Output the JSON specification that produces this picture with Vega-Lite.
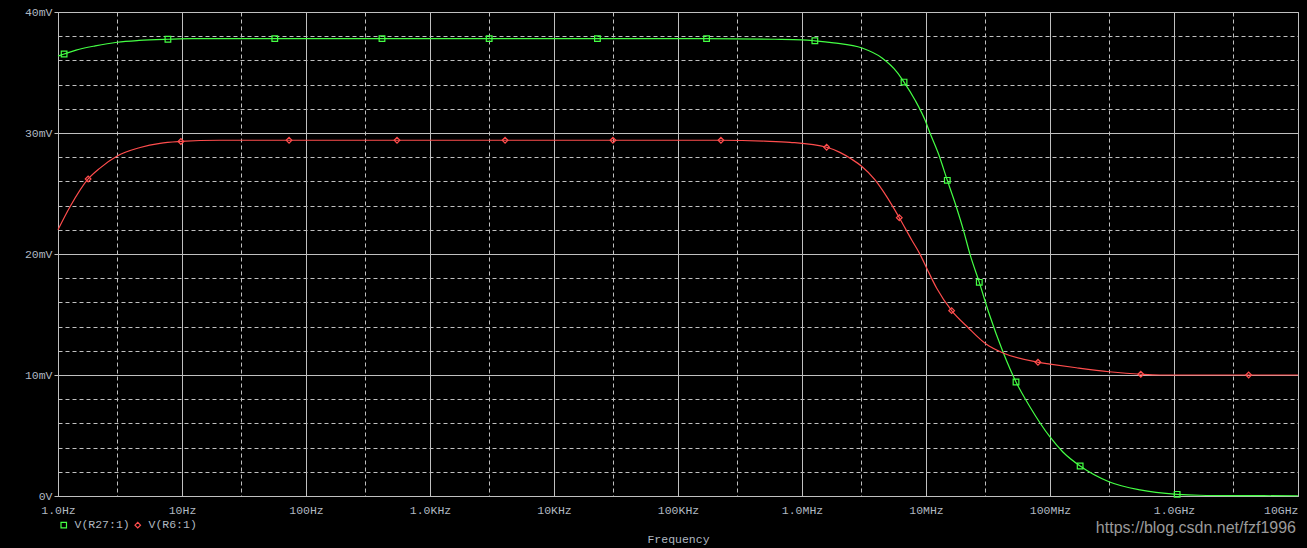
{
  "$schema": "https://vega.github.io/schema/vega-lite/v6.json",
  "width": 1240,
  "height": 484,
  "autosize": {"type": "none"},
  "padding": {"left": 58, "top": 12, "right": 9, "bottom": 52},
  "background": "#000000",
  "config": {
    "view": {"stroke": "#c0c0c0", "strokeWidth": 1, "fill": "#000000"},
    "axis": {
      "labelFont": "Liberation Mono",
      "labelFontSize": 11.5,
      "labelColor": "#b0b8c0",
      "titleFont": "Liberation Mono",
      "titleFontSize": 11.5,
      "titleColor": "#b0b8c0",
      "titleFontWeight": "normal",
      "gridColor": "#c0c0c0",
      "gridOpacity": 1,
      "gridWidth": 1,
      "domain": false,
      "tickColor": "#c0c0c0"
    }
  },
  "datasets": {
    "curves": [
      {"f": 1, "v": 36.36, "s": "V(R27:1)", "m": 0},
      {"f": 1.12, "v": 36.53, "s": "V(R27:1)", "m": 1},
      {"f": 1.4, "v": 36.85, "s": "V(R27:1)", "m": 0},
      {"f": 2, "v": 37.2, "s": "V(R27:1)", "m": 0},
      {"f": 3, "v": 37.5, "s": "V(R27:1)", "m": 0},
      {"f": 4.5, "v": 37.65, "s": "V(R27:1)", "m": 0},
      {"f": 7.7, "v": 37.75, "s": "V(R27:1)", "m": 1},
      {"f": 12, "v": 37.8, "s": "V(R27:1)", "m": 0},
      {"f": 56, "v": 37.8, "s": "V(R27:1)", "m": 1},
      {"f": 410, "v": 37.8, "s": "V(R27:1)", "m": 1},
      {"f": 3000, "v": 37.8, "s": "V(R27:1)", "m": 1},
      {"f": 22400, "v": 37.8, "s": "V(R27:1)", "m": 1},
      {"f": 170000, "v": 37.8, "s": "V(R27:1)", "m": 1},
      {"f": 600000, "v": 37.75, "s": "V(R27:1)", "m": 0},
      {"f": 1000000, "v": 37.7, "s": "V(R27:1)", "m": 0},
      {"f": 1270000, "v": 37.62, "s": "V(R27:1)", "m": 1},
      {"f": 1800000, "v": 37.45, "s": "V(R27:1)", "m": 0},
      {"f": 3050000, "v": 37.02, "s": "V(R27:1)", "m": 0},
      {"f": 4420000, "v": 36.2, "s": "V(R27:1)", "m": 0},
      {"f": 5830000, "v": 35.04, "s": "V(R27:1)", "m": 0},
      {"f": 6650000, "v": 34.21, "s": "V(R27:1)", "m": 1},
      {"f": 8150000, "v": 32.73, "s": "V(R27:1)", "m": 0},
      {"f": 9820000, "v": 31.07, "s": "V(R27:1)", "m": 0},
      {"f": 10770000, "v": 30.0, "s": "V(R27:1)", "m": 0},
      {"f": 12560000, "v": 28.32, "s": "V(R27:1)", "m": 0},
      {"f": 14850000, "v": 26.09, "s": "V(R27:1)", "m": 1},
      {"f": 17700000, "v": 23.78, "s": "V(R27:1)", "m": 0},
      {"f": 20000000, "v": 22.0, "s": "V(R27:1)", "m": 0},
      {"f": 22650000, "v": 19.97, "s": "V(R27:1)", "m": 0},
      {"f": 26900000, "v": 17.66, "s": "V(R27:1)", "m": 1},
      {"f": 32200000, "v": 15.1, "s": "V(R27:1)", "m": 0},
      {"f": 41800000, "v": 11.9, "s": "V(R27:1)", "m": 0},
      {"f": 53200000, "v": 9.42, "s": "V(R27:1)", "m": 1},
      {"f": 69000000, "v": 7.36, "s": "V(R27:1)", "m": 0},
      {"f": 100000000, "v": 4.88, "s": "V(R27:1)", "m": 0},
      {"f": 127000000, "v": 3.64, "s": "V(R27:1)", "m": 0},
      {"f": 175000000, "v": 2.48, "s": "V(R27:1)", "m": 1},
      {"f": 299000000, "v": 1.18, "s": "V(R27:1)", "m": 0},
      {"f": 532000000, "v": 0.5, "s": "V(R27:1)", "m": 0},
      {"f": 1060000000, "v": 0.14, "s": "V(R27:1)", "m": 1},
      {"f": 1600000000, "v": 0.06, "s": "V(R27:1)", "m": 0},
      {"f": 3000000000, "v": 0.03, "s": "V(R27:1)", "m": 0},
      {"f": 10000000000, "v": 0.02, "s": "V(R27:1)", "m": 0},
      {"f": 1, "v": 22.0, "s": "V(R6:1)", "m": 0},
      {"f": 1.25, "v": 23.9, "s": "V(R6:1)", "m": 0},
      {"f": 1.75, "v": 26.2, "s": "V(R6:1)", "m": 1},
      {"f": 2.18, "v": 27.1, "s": "V(R6:1)", "m": 0},
      {"f": 3, "v": 28.1, "s": "V(R6:1)", "m": 0},
      {"f": 4.6, "v": 28.8, "s": "V(R6:1)", "m": 0},
      {"f": 6.65, "v": 29.15, "s": "V(R6:1)", "m": 0},
      {"f": 9.8, "v": 29.3, "s": "V(R6:1)", "m": 1},
      {"f": 20, "v": 29.4, "s": "V(R6:1)", "m": 0},
      {"f": 73, "v": 29.4, "s": "V(R6:1)", "m": 1},
      {"f": 542, "v": 29.4, "s": "V(R6:1)", "m": 1},
      {"f": 4030, "v": 29.4, "s": "V(R6:1)", "m": 1},
      {"f": 29900, "v": 29.4, "s": "V(R6:1)", "m": 1},
      {"f": 222000, "v": 29.4, "s": "V(R6:1)", "m": 1},
      {"f": 500000, "v": 29.33, "s": "V(R6:1)", "m": 0},
      {"f": 800000, "v": 29.23, "s": "V(R6:1)", "m": 0},
      {"f": 1580000, "v": 28.82, "s": "V(R6:1)", "m": 1},
      {"f": 2020000, "v": 28.4, "s": "V(R6:1)", "m": 0},
      {"f": 2520000, "v": 27.83, "s": "V(R6:1)", "m": 0},
      {"f": 3010000, "v": 27.27, "s": "V(R6:1)", "m": 0},
      {"f": 3880000, "v": 26.12, "s": "V(R6:1)", "m": 0},
      {"f": 4820000, "v": 24.74, "s": "V(R6:1)", "m": 0},
      {"f": 6090000, "v": 23.0, "s": "V(R6:1)", "m": 1},
      {"f": 7670000, "v": 21.16, "s": "V(R6:1)", "m": 0},
      {"f": 8960000, "v": 19.97, "s": "V(R6:1)", "m": 0},
      {"f": 10140000, "v": 18.82, "s": "V(R6:1)", "m": 0},
      {"f": 12200000, "v": 17.17, "s": "V(R6:1)", "m": 0},
      {"f": 16100000, "v": 15.32, "s": "V(R6:1)", "m": 1},
      {"f": 21800000, "v": 13.93, "s": "V(R6:1)", "m": 0},
      {"f": 30500000, "v": 12.56, "s": "V(R6:1)", "m": 0},
      {"f": 41800000, "v": 11.82, "s": "V(R6:1)", "m": 0},
      {"f": 80000000, "v": 11.05, "s": "V(R6:1)", "m": 1},
      {"f": 100000000, "v": 10.9, "s": "V(R6:1)", "m": 0},
      {"f": 163000000, "v": 10.6, "s": "V(R6:1)", "m": 0},
      {"f": 300000000, "v": 10.27, "s": "V(R6:1)", "m": 0},
      {"f": 540000000, "v": 10.06, "s": "V(R6:1)", "m": 1},
      {"f": 770000000, "v": 10.0, "s": "V(R6:1)", "m": 0},
      {"f": 4000000000, "v": 10.0, "s": "V(R6:1)", "m": 1},
      {"f": 10000000000, "v": 10.0, "s": "V(R6:1)", "m": 0}
    ]
  },
  "layer": [
    {
      "data": {"name": "curves"},
      "transform": [{"filter": "datum.s == 'V(R27:1)'"}],
      "mark": {"type": "line", "strokeWidth": 1.2, "interpolate": "monotone", "color": "#44ff44"},
      "encoding": {
        "x": {
          "field": "f",
          "type": "quantitative",
          "scale": {"type": "log", "domain": [1, 10000000000]},
          "axis": {
            "values": [1, 3, 10, 30, 100, 300, 1000, 3000, 10000, 30000, 100000, 300000, 1000000, 3000000, 10000000, 30000000, 100000000, 300000000, 1000000000, 3000000000, 10000000000],
            "tickCount": 100,
            "labelExpr": "{'1':'1.0Hz','10':'10Hz','100':'100Hz','1000':'1.0KHz','10000':'10KHz','100000':'100KHz','1000000':'1.0MHz','10000000':'10MHz','100000000':'100MHz','1000000000':'1.0GHz','10000000000':'10GHz'}['' + datum.value] || ''",
            "ticks": false,
            "labelPadding": 8,
            "labelFlush": false,
            "labelOverlap": false,
            "labelBound": false,
            "labelAlign": {"condition": {"test": "datum.value >= 9000000000", "value": "right"}, "value": "center"},
            "gridDash": {"condition": {"test": "abs(log(datum.value)/LN10 - round(log(datum.value)/LN10)) > 0.01", "value": [4, 3]}, "value": []},
            "title": "Frequency",
            "titlePadding": 18
          }
        },
        "y": {
          "field": "v",
          "type": "quantitative",
          "scale": {"domain": [0, 40], "nice": false, "zero": false},
          "axis": {
            "values": [0, 2, 4, 6, 8, 10, 12, 14, 16, 18, 20, 22, 24, 26, 28, 30, 32, 34, 36, 38, 40],
            "tickCount": 100,
            "labelExpr": "datum.value % 10 == 0 ? (datum.value == 0 ? '0V' : datum.value + 'mV') : ''",
            "tickSize": 4,
            "labelPadding": 2,
            "tickOpacity": {"condition": {"test": "datum.value % 10 != 0", "value": 0}, "value": 1},
            "gridDash": {"condition": {"test": "datum.value % 10 != 0", "value": [4, 3]}, "value": []},
            "labelOverlap": false,
            "labelBound": false,
            "title": null
          }
        }
      }
    },
    {
      "data": {"name": "curves"},
      "transform": [{"filter": "datum.s == 'V(R6:1)'"}],
      "mark": {"type": "line", "strokeWidth": 1.2, "interpolate": "monotone", "color": "#ff4d4d"},
      "encoding": {
        "x": {"field": "f", "type": "quantitative"},
        "y": {"field": "v", "type": "quantitative"}
      }
    },
    {
      "data": {"name": "curves"},
      "transform": [{"filter": "datum.m == 1"}],
      "mark": {"type": "point", "filled": false, "strokeWidth": 1.2, "opacity": 1, "size": 32},
      "encoding": {
        "x": {"field": "f", "type": "quantitative"},
        "y": {"field": "v", "type": "quantitative"},
        "color": {
          "field": "s",
          "type": "nominal",
          "scale": {"domain": ["V(R27:1)", "V(R6:1)"], "range": ["#44ff44", "#ff4d4d"]},
          "legend": {
            "orient": "none",
            "legendX": 0,
            "legendY": 507,
            "direction": "horizontal",
            "title": null,
            "labelFont": "Liberation Mono",
            "labelFontSize": 11.5,
            "labelColor": "#b0b8c0",
            "symbolSize": 30,
            "symbolStrokeWidth": 1.2,
            "labelOffset": 5,
            "columnPadding": 2,
            "padding": 0
          }
        },
        "shape": {
          "field": "s",
          "type": "nominal",
          "scale": {"domain": ["V(R27:1)", "V(R6:1)"], "range": ["square", "diamond"]}
        }
      }
    },
    {
      "data": {"values": [{}]},
      "mark": {"type": "text", "align": "right", "baseline": "middle", "font": "Liberation Sans", "fontSize": 16, "color": "#9a9a9a", "dx": -2},
      "encoding": {
        "x": {"datum": 10000000000, "type": "quantitative"},
        "y": {"datum": -2.65, "type": "quantitative"},
        "text": {"value": "https://blog.csdn.net/fzf1996"}
      }
    }
  ]
}
